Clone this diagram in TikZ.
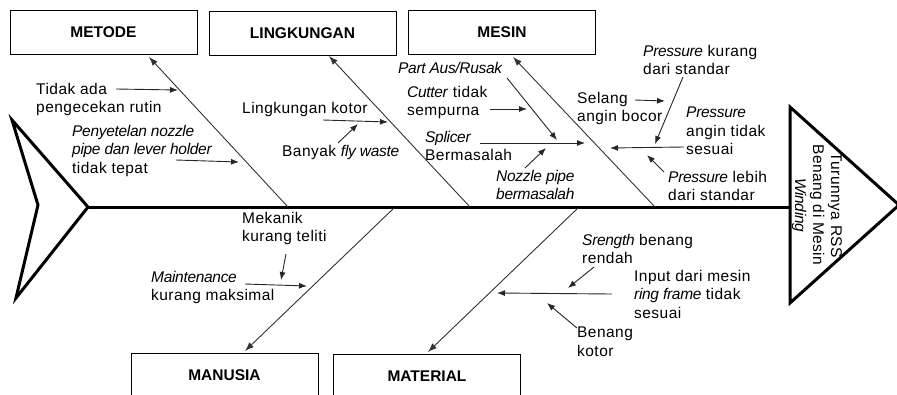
\documentclass[tikz,border=0pt]{standalone}
\usepackage{fontspec}
\setmainfont{Liberation Sans}[UprightFeatures={LetterSpace=3}, ItalicFeatures={LetterSpace=-2}, BoldFeatures={LetterSpace=0}]
\usetikzlibrary{arrows.meta}
\tikzset{
  lbl/.style={font=\fontsize{15.5}{18.5}\selectfont, align=left, inner sep=0pt, anchor=north west},
  cat/.style={draw, line width=1pt, minimum width=187pt, minimum height=44pt, inner sep=0pt, font=\fontsize{15.5}{18}\selectfont\bfseries},
  bone/.style={draw=black!80, line width=0.9pt, -{Latex[length=9pt,width=6.5pt]}},
  sub/.style={draw=black!85, line width=0.9pt, -{Latex[length=8pt,width=6pt]}},
  thick3/.style={line width=3pt, line join=miter},
}
\begin{document}
\begin{tikzpicture}[x=1pt,y=-1pt]
\useasboundingbox (0,0) rectangle (897,394);
% category boxes
\node[cat] (metode) at (103.5,32) {METODE};
\node[cat] (lingk) at (302.5,33) {LINGKUNGAN};
\node[cat] (mesin) at (502,32.5) {MESIN};
\node[cat] (manusia) at (224.5,375) {MANUSIA};
\node[cat] (material) at (427,376) {MATERIAL};
% tail and head
\coordinate (tailtop) at (12,120);
\coordinate (tailpt) at (88,207);
\coordinate (tailbot) at (16,298);
\coordinate (tailin) at (38,205);
\draw[thick3] (tailtop) -- (tailpt) -- (tailbot) -- (tailin) -- cycle;
\coordinate (headtop) at (790,107);
\coordinate (headapex) at (899,205);
\coordinate (headbot) at (790,303);
\coordinate (headpt) at (790,207);
\draw[thick3] (headtop) -- (headapex) -- (headbot) -- cycle;
\draw[thick3] (tailpt) -- (headpt);
\node[rotate=-90, align=center, inner sep=0pt, font=\fontsize{15.5}{18}\selectfont] (effect) at (817,205) {Turunnya RSS\\Benang di Mesin\\\textit{Winding}};
% bones
\coordinate (sMet) at (288,207); \coordinate (tMet) at (149,57);
\coordinate (sLin) at (470,207); \coordinate (tLin) at (329,56);
\coordinate (sMes) at (655,207); \coordinate (tMes) at (513,57);
\coordinate (sMan) at (394,208); \coordinate (tMan) at (245,351);
\coordinate (sMat) at (578,208); \coordinate (tMat) at (428,352);
\draw[bone] (sMet) -- (tMet);
\draw[bone] (sLin) -- (tLin);
\draw[bone] (sMes) -- (tMes);
\draw[bone] (sMan) -- (tMan);
\draw[bone] (sMat) -- (tMat);
% METODE causes
\node[lbl] (m1) at (36,83) {Tidak ada\\pengecekan rutin};
\node[lbl] (m2) at (72,125) {\textit{Penyetelan nozzle}\\\textit{pipe dan lever holder}\\tidak tepat};
\coordinate (m1s) at (116,89); \coordinate (m1e) at (178,90);
\coordinate (m2s) at (176,160); \coordinate (m2e) at (239,162);
\draw[sub] (m1s) -- (m1e);
\draw[sub] (m2s) -- (m2e);
% LINGKUNGAN causes
\node[lbl] (l1) at (242,102) {Lingkungan kotor};
\node[lbl] (l2) at (282,145) {Banyak \textit{fly waste}};
\coordinate (l1s) at (323,120); \coordinate (l1e) at (388,122);
\coordinate (l2s) at (338,143); \coordinate (l2e) at (358,124);
\draw[sub] (l1s) -- (l1e);
\draw[sub] (l2s) -- (l2e);
% MESIN causes
\node[lbl] (e1) at (398,62) {\textit{Part Aus/Rusak}};
\node[lbl] (e2) at (407,86) {\textit{Cutter} tidak\\sempurna};
\node[lbl] (e3) at (425,131) {\textit{Splicer}\\Bermasalah};
\node[lbl] (e4) at (496,170) {\textit{Nozzle pipe}\\\textit{bermasalah}};
\node[lbl] (e5) at (577,92) {Selang\\angin bocor};
\node[lbl] (e6) at (643,45) {\textit{Pressure} kurang\\dari standar};
\node[lbl] (e7) at (686,107) {\textit{Pressure}\\angin tidak\\sesuai};
\node[lbl] (e8) at (668,171) {\textit{Pressure} lebih\\dari standar};
\coordinate (e1s) at (507,78); \coordinate (e1e) at (557,140);
\coordinate (e2s) at (490,109); \coordinate (e2e) at (527,109);
\coordinate (e3s) at (480,143); \coordinate (e3e) at (585,143);
\coordinate (e4s) at (525,168); \coordinate (e4e) at (546,148);
\coordinate (e5s) at (635,100); \coordinate (e5e) at (665,101);
\coordinate (e6s) at (683,77); \coordinate (e6e) at (655,144);
\coordinate (e7s) at (684,147); \coordinate (e7e) at (610,148);
\coordinate (e8s) at (664,172); \coordinate (e8e) at (647,155);
\draw[sub] (e1s) -- (e1e);
\draw[sub] (e2s) -- (e2e);
\draw[sub] (e3s) -- (e3e);
\draw[sub] (e4s) -- (e4e);
\draw[sub] (e5s) -- (e5e);
\draw[sub] (e6s) -- (e6e);
\draw[sub] (e7s) -- (e7e);
\draw[sub] (e8s) -- (e8e);
% MANUSIA causes
\node[lbl] (h1) at (242,212) {Mekanik\\kurang teliti};
\node[lbl] (h2) at (151,271) {\textit{Maintenance}\\kurang maksimal};
\coordinate (h1s) at (286,254); \coordinate (h1e) at (281,280);
\coordinate (h2s) at (245,284); \coordinate (h2e) at (307,286);
\draw[sub] (h1s) -- (h1e);
\draw[sub] (h2s) -- (h2e);
% MATERIAL causes
\node[lbl] (r1) at (582,234) {\textit{Srength} benang\\rendah};
\node[lbl] (r2) at (634,270) {Input dari mesin\\\textit{ring frame} tidak\\sesuai};
\node[lbl] (r3) at (577,327) {Benang\\kotor};
\coordinate (r1s) at (594,267); \coordinate (r1e) at (568,288);
\coordinate (r2s) at (612,294); \coordinate (r2e) at (497,293);
\coordinate (r3s) at (577,328); \coordinate (r3e) at (547,303);
\draw[sub] (r1s) -- (r1e);
\draw[sub] (r2s) -- (r2e);
\draw[sub] (r3s) -- (r3e);
\end{tikzpicture}
\end{document}
